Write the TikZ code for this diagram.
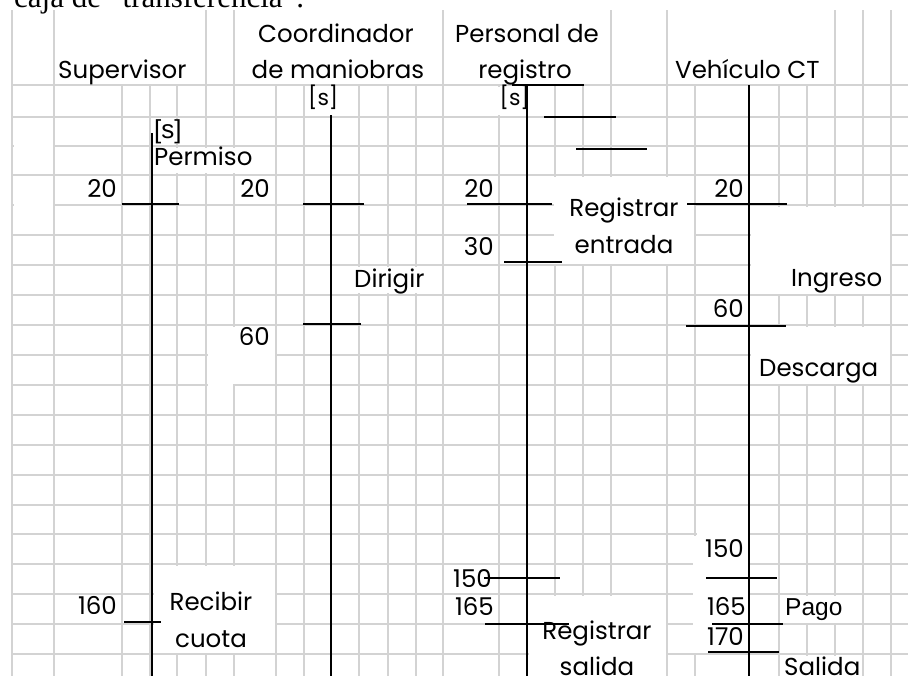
\documentclass[tikz,border=0pt]{standalone}
\usepackage{fontspec}
\setmainfont{Poppins}
\newfontfamily\arialf{Liberation Sans}
\newfontfamily\seriff{Liberation Serif}
\definecolor{gridgray}{HTML}{D3D3D3}
\tikzset{
  gridline/.style={draw=gridgray, line width=1.4pt},
  lifeline/.style={draw=black, line width=1.7pt},
  tickline/.style={draw=black, line width=1.5pt},
  blank/.style={fill=white},
  lbl/.style={inner sep=0pt, font=\fontsize{24.5}{28}\selectfont},
  sbl/.style={inner sep=0pt, font=\fontsize{22}{26}\selectfont},
  albl/.style={inner sep=0pt, font=\arialf\fontsize{24.5}{28}\selectfont},
}
\begin{document}
\begin{tikzpicture}[x=1pt,y=-1pt]
\clip (0,0) rectangle (908,675);
\fill[white] (0,0) rectangle (908,675);
% ---- grid ----
\foreach \x in {12,54,206,234,443,611,667,835,863,891}
  \draw[gridline] (\x,10) -- (\x,85);
\foreach \x in {12,54,122,150,177,206,234,276,304,359,388,416,443,499,555,583,611,667,695,779,807,835,863,891}
  \draw[gridline] (\x,85) -- (\x,676);
\foreach \y in {85,117,146,175,205,235,265,295,325,355,385,415,445,475,505,534,564,594,624,654}
  \draw[gridline] (12,\y) -- (909,\y);
% ---- hidden grid parts ----
\fill[blank] (497,87) rectangle (501,115);
\fill[blank] (175,119) rectangle (179,144);
\fill[blank] (160,148) rectangle (262,173);
\fill[blank] (14,144) rectangle (52.8,148);
\fill[blank] (14,203) rectangle (52.8,207);
\fill[blank] (553.5,176.5) rectangle (693.8,263.8);
\fill[blank] (340,267) rectangle (430,293);
\fill[blank] (751,206.5) rectangle (889.8,293.8);
\fill[blank] (751,326.5) rectangle (889.8,383.8);
\fill[blank] (207.5,353) rectangle (275,357);
\fill[blank] (232,326.5) rectangle (236,384);
\fill[blank] (207.5,383) rectangle (233,387);
\fill[blank] (154,565.8) rectangle (275,652.8);
\fill[blank] (529,595.8) rectangle (665.8,676);
\fill[blank] (697,506.5) rectangle (748,653);
\fill[blank] (693,536) rectangle (697,653);
\fill[blank] (781,596) rectangle (861,622.5);
\fill[blank] (781,656) rectangle (861,676);
% ---- title (cut off at top) ----
\node[inner sep=0pt, anchor=base west, font=\seriff\fontsize{31}{35}\selectfont] (title) at (14,7.5) {caja de “transferencia”.};
% ---- headers ----
\node[lbl, anchor=base west] (hsup) at (58,78) {Supervisor};
\node[lbl, anchor=base] (hcoa) at (336,42) {Coordinador};
\node[lbl, anchor=base] (hcob) at (338,78) {de maniobras};
\node[lbl, anchor=base] (hpra) at (527,42) {Personal de};
\node[lbl, anchor=base] (hprb) at (525,78) {registro};
\node[lbl, anchor=base west] (hveh) at (675,78) {Vehículo CT};
% ---- lifelines ----
\coordinate (supT) at (152,133); \coordinate (supB) at (152,676);
\coordinate (coT) at (331,115);  \coordinate (coB) at (331,676);
\coordinate (prT) at (527,85);   \coordinate (prB) at (527,676);
\coordinate (veT) at (749,85);   \coordinate (veB) at (749,676);
\draw[lifeline] (supT) -- (supB);
\draw[lifeline] (coT) -- (coB);
\draw[lifeline] (prT) -- (prB);
\draw[lifeline] (veT) -- (veB);
% ---- tick lines ----
\draw[tickline] (512,85) -- (584,85);
\draw[tickline] (544,117) -- (616,117);
\draw[tickline] (576,149) -- (647,149);
\draw[tickline] (122,204) -- (179,204);
\draw[tickline] (124,622) -- (161,622);
\draw[tickline] (303,204) -- (364,204);
\draw[tickline] (303,324) -- (361,324);
\draw[tickline] (467,204) -- (552,204);
\draw[tickline] (504,262) -- (562,262);
\draw[tickline] (484,578) -- (560,578);
\draw[tickline] (485,624) -- (569,624);
\draw[tickline] (687,204) -- (787,204);
\draw[tickline] (686,326) -- (786,326);
\draw[tickline] (706,578) -- (777,578);
\draw[tickline] (712,624) -- (783,624);
\draw[tickline] (708,652) -- (779,652);
% ---- Supervisor ----
\node[albl, anchor=base west, font=\arialf\fontsize{26}{30}\selectfont] (sups) at (154,138) {[s]};
\node[lbl, anchor=base west] (perm) at (154,165) {Permiso};
\node[lbl, anchor=base east] (sup20) at (117,197) {20};
\node[lbl, anchor=base east] (sup160) at (117,614) {160};
\node[lbl, anchor=base] (reca) at (211,610) {Recibir};
\node[lbl, anchor=base] (recb) at (211,647) {cuota};
% ---- Coordinador ----
\node[sbl, anchor=base west] (cos) at (308,105) {[s]};
\node[lbl, anchor=base east] (co20) at (270,197) {20};
\node[lbl, anchor=base west] (dir) at (354,287) {Dirigir};
\node[lbl, anchor=base east] (co60) at (270,345) {60};
% ---- Personal de registro ----
\node[sbl, anchor=base east] (prs) at (530,105) {[s]};
\node[lbl, anchor=base east] (pr20) at (494,197) {20};
\node[lbl, anchor=base east] (pr30) at (494,255) {30};
\node[lbl, anchor=base] (rea) at (624,216) {Registrar};
\node[lbl, anchor=base] (reb) at (624,253) {entrada};
\node[lbl, anchor=base east] (pr150) at (492,587) {150};
\node[lbl, anchor=base east] (pr165) at (494,615) {165};
\node[lbl, anchor=base] (rsa) at (597,639) {Registrar};
\node[lbl, anchor=base] (rsb) at (597,675) {salida};
% ---- Vehiculo CT ----
\node[lbl, anchor=base east] (ve20) at (744,197) {20};
\node[lbl, anchor=base west] (ing) at (791,286) {Ingreso};
\node[lbl, anchor=base east] (ve60) at (744,317) {60};
\node[lbl, anchor=base west] (desc) at (759,376) {Descarga};
\node[lbl, anchor=base east] (ve150) at (744,557) {150};
\node[lbl, anchor=base east] (ve165) at (746,615) {165};
\node[albl, anchor=base west] (pago) at (785,615) {Pago};
\node[lbl, anchor=base east] (ve170) at (744,645) {170};
\node[lbl, anchor=base west] (sal) at (784,675) {Salida};
\end{tikzpicture}
\end{document}
